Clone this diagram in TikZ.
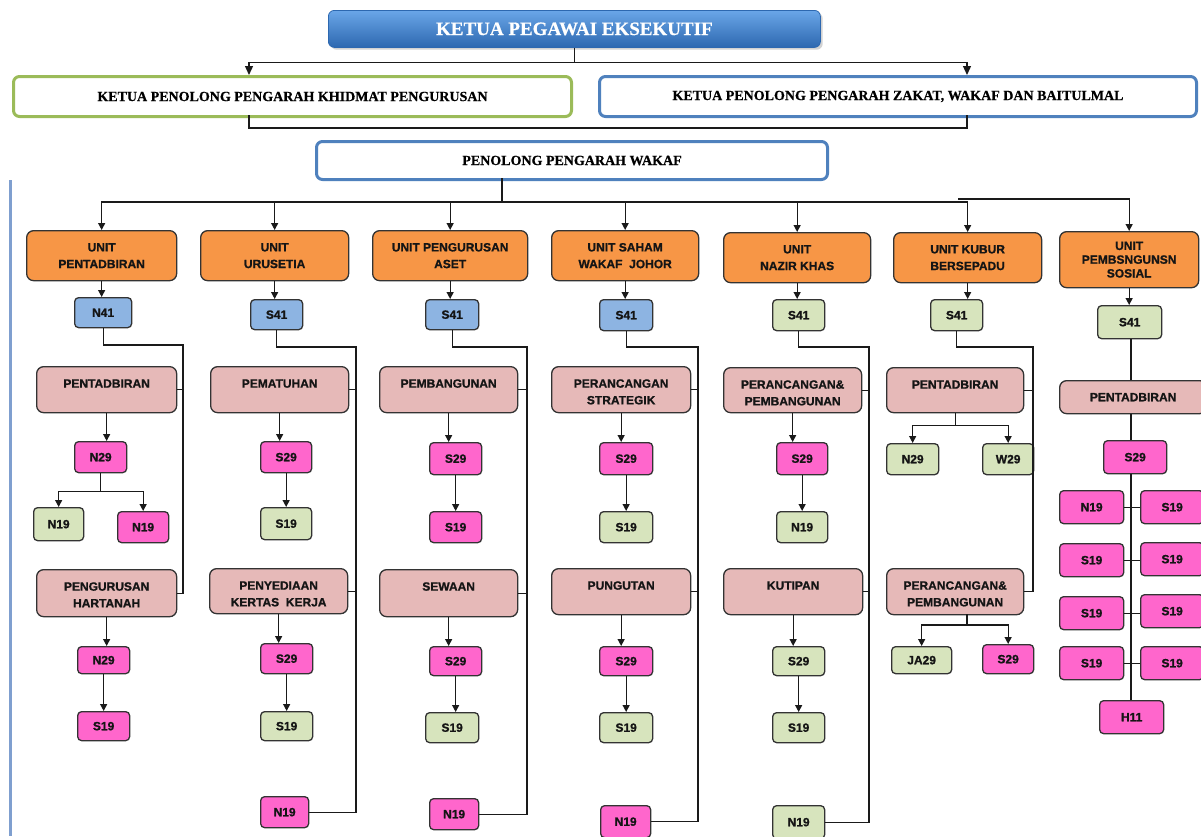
\documentclass[tikz,border=0pt]{standalone}
\usepackage{fontspec}
\setmainfont{Liberation Serif}[BoldFeatures={FakeBold=0.6}]
\setsansfont{Liberation Sans}[BoldFeatures={FakeBold=1}]
\usetikzlibrary{arrows.meta,shadows}
\definecolor{orng}{HTML}{F79646}
\definecolor{gblue}{HTML}{8DB4E2}
\definecolor{ggreen}{HTML}{D7E4BD}
\definecolor{gmag}{HTML}{FF66CC}
\definecolor{gpink}{HTML}{E6B9B8}
\definecolor{bordc}{HTML}{333333}
\definecolor{txt}{HTML}{151515}
\definecolor{lnc}{HTML}{1A1A1A}
\definecolor{ttop}{HTML}{6AA6E8}
\definecolor{tbot}{HTML}{2D68B0}
\definecolor{grnb}{HTML}{9BBB59}
\definecolor{blub}{HTML}{4F81BD}
\definecolor{sideb}{HTML}{7F9FCF}
\tikzset{
  base/.style={draw=bordc, line width=1.3pt, text=txt, font=\sffamily\bfseries\fontsize{12}{16.7}\selectfont, align=center, inner sep=0pt},
  unitbox/.style={base, fill=orng, rounded corners=7pt},
  bluebox/.style={base, fill=gblue, rounded corners=4pt},
  grnbox/.style={base, fill=ggreen, rounded corners=4pt},
  magbox/.style={base, fill=gmag, rounded corners=4pt},
  sectbox/.style={base, fill=gpink, rounded corners=7pt},
  headbox/.style={line width=3pt, rounded corners=6pt, fill=white, text=black, inner sep=0pt, font=\rmfamily\bfseries\fontsize{14}{16}\selectfont},
  topbox/.style={rounded corners=6pt, top color=ttop, bottom color=tbot, draw=tbot, line width=0.8pt, drop shadow={opacity=0.35}, text=white, inner sep=0pt, font=\rmfamily\bfseries\fontsize{19}{21}\selectfont},
  conn/.style={draw=lnc, line width=1.3pt},
  arr/.style={conn, -{Triangle[length=7pt,width=7pt]}},
  arrtop/.style={conn, -{Triangle[length=9pt,width=8pt]}},
}
\newcommand\bx[7]{\node[#1, anchor=north west, minimum width={(#5-#3)*1pt}, minimum height={(#6-#4)*1pt}] (#2) at (#3,#4) {#7};}
\newcommand\sx[6]{\node[sectbox, anchor=north west] (#1) at (#2,#3) {\parbox[c][\dimexpr #5pt-#3pt\relax][t]{\dimexpr #4pt-#2pt\relax}{\centering\rule{0pt}{21pt}#6}};}
\newcommand\ar[2]{\draw[arr] (#1.south) -- (#1.south |- #2.north);}
\begin{document}
\begin{tikzpicture}[x=1pt,y=-1pt]
\useasboundingbox (0,0) rectangle (1201,836);
\clip (0,0) rectangle (1201,836);
\fill[white] (0,0) rectangle (1201,836);

% top section
\bx{topbox}{t0}{328}{10}{820}{47}{KETUA PEGAWAI EKSEKUTIF}
\bx{headbox,draw=grnb}{t1}{12}{75}{570}{115}{KETUA PENOLONG PENGARAH KHIDMAT PENGURUSAN}
\bx{headbox,draw=blub}{t2}{598}{75}{1195}{115}{KETUA PENOLONG PENGARAH ZAKAT, WAKAF DAN BAITULMAL}
\bx{headbox,draw=blub}{t3}{315}{140}{826}{178}{PENOLONG PENGARAH WAKAF}

\coordinate (a1) at (249,75);
\coordinate (a2) at (967,75);
\coordinate (b1) at (249,115);
\coordinate (b2) at (967,115);
\draw[conn] (t0.south) -- ++(0,15) coordinate (j0);
\draw[arrtop] (j0) -| (a1);
\draw[arrtop] (j0) -| (a2);
\draw[conn] (b1) -- ++(0,13) -| (b2);

% side line
\draw[sideb, line width=3pt] (10,180) -- (10,836);

% units
\bx{unitbox}{u1}{26}{230}{176}{280}{UNIT\\PENTADBIRAN}
\bx{unitbox}{u2}{200}{230}{348}{280}{UNIT\\URUSETIA}
\bx{unitbox}{u3}{372}{230}{527}{280}{UNIT PENGURUSAN\\ASET}
\bx{unitbox}{u4}{551}{230}{698}{280}{UNIT SAHAM\\WAKAF\ \ JOHOR}
\bx{unitbox}{u5}{723}{232}{870}{282}{UNIT\\NAZIR KHAS}
\bx{unitbox}{u6}{893}{232}{1041}{282}{UNIT KUBUR\\BERSEPADU}
\bx{unitbox,font=\sffamily\bfseries\fontsize{12}{13.8}\selectfont}{u7}{1059}{231}{1198}{287}{UNIT\\PEMBSNGUNSN\\SOSIAL}

\coordinate (p0) at (502,178);
\coordinate (p1) at (502,202);
\coordinate (p2) at (958,199);
\draw[conn] (p0) -- (p1);
\foreach \u in {u1,u2,u3,u4,u5,u6} \draw[arr] (p1) -| (\u.north);
\draw[arr] (p2) -| (u7.north);

% column 1
\bx{bluebox}{g1}{74}{297}{131}{327}{N41}
\sx{s1a}{36}{366}{176}{412}{PENTADBIRAN}
\bx{magbox}{m1a}{74}{441}{126}{472}{N29}
\bx{grnbox}{k1a}{33}{507}{83}{540}{N19}
\bx{magbox}{m1b}{117}{511}{168}{542}{N19}
\sx{s1b}{36}{569}{176}{616}{PENGURUSAN\\HARTANAH}
\bx{magbox}{m1c}{77}{646}{129}{673}{N29}
\bx{magbox}{m1d}{77}{711}{129}{740}{S19}
\ar{u1}{g1}
\ar{s1a}{m1a}
\draw[conn] (m1a.south) -- ++(0,18) coordinate (f1);
\draw[arr] (f1) -| (k1a.north);
\draw[arr] (f1) -| (m1b.north);
\ar{s1b}{m1c}
\ar{m1c}{m1d}
\coordinate (c1) at (183,345);
\draw[conn] (g1.south) |- (c1) |- (s1b.east);
\draw[conn] (s1a.east) -- (s1a.east -| c1);

% column 2
\bx{bluebox}{g2}{250}{299}{302}{329}{S41}
\sx{s2a}{210}{366}{348}{412}{PEMATUHAN}
\bx{magbox}{m2a}{260}{441}{311}{472}{S29}
\bx{grnbox}{k2a}{260}{507}{311}{539}{S19}
\sx{s2b}{209}{568}{347}{613}{PENYEDIAAN\\KERTAS\ \ KERJA}
\bx{magbox}{m2b}{260}{643}{312}{673}{S29}
\bx{grnbox}{k2b}{260}{711}{312}{740}{S19}
\bx{magbox}{m2c}{260}{796}{308}{827}{N19}
\ar{u2}{g2}
\ar{s2a}{m2a}
\ar{m2a}{k2a}
\ar{s2b}{m2b}
\ar{m2b}{k2b}
\coordinate (c2) at (356,347);
\draw[conn] (g2.south) |- (c2) |- (m2c.east);
\draw[conn] (s2a.east) -- (s2a.east -| c2);
\draw[conn] (s2b.east) -- (s2b.east -| c2);

% column 3
\bx{bluebox}{g3}{425}{299}{478}{329}{S41}
\sx{s3a}{379}{366}{517}{412}{PEMBANGUNAN}
\bx{magbox}{m3a}{429}{442}{481}{474}{S29}
\bx{magbox}{m3b}{429}{511}{481}{542}{S19}
\sx{s3b}{379}{569}{517}{616}{SEWAAN}
\bx{magbox}{m3c}{429}{646}{481}{675}{S29}
\bx{grnbox}{k3a}{425}{712}{478}{742}{S19}
\bx{magbox}{m3d}{429}{798}{478}{829}{N19}
\ar{u3}{g3}
\ar{s3a}{m3a}
\ar{m3a}{m3b}
\ar{s3b}{m3c}
\ar{m3c}{k3a}
\coordinate (c3) at (527,347);
\draw[conn] (g3.south) |- (c3) |- (m3d.east);
\draw[conn] (s3a.east) -- (s3a.east -| c3);
\draw[conn] (s3b.east) -- (s3b.east -| c3);

% column 4
\bx{bluebox}{g4}{599}{299}{652}{330}{S41}
\sx{s4a}{551}{366}{690}{412}{PERANCANGAN\\STRATEGIK}
\bx{magbox}{m4a}{599}{442}{652}{474}{S29}
\bx{grnbox}{k4a}{599}{511}{652}{542}{S19}
\sx{s4b}{551}{568}{690}{614}{PUNGUTAN}
\bx{magbox}{m4b}{599}{646}{652}{675}{S29}
\bx{grnbox}{k4b}{599}{712}{652}{742}{S19}
\bx{magbox}{m4c}{600}{805}{650}{837}{N19}
\ar{u4}{g4}
\ar{s4a}{m4a}
\ar{m4a}{k4a}
\ar{s4b}{m4b}
\ar{m4b}{k4b}
\coordinate (c4) at (698,347);
\draw[conn] (g4.south) |- (c4) |- (m4c.east);
\draw[conn] (s4a.east) -- (s4a.east -| c4);
\draw[conn] (s4b.east) -- (s4b.east -| c4);

% column 5
\bx{grnbox}{k5a}{772}{299}{824}{330}{S41}
\sx{s5a}{723}{367}{861}{412}{PERANCANGAN\&\\PEMBANGUNAN}
\bx{magbox}{m5a}{776}{442}{827}{474}{S29}
\bx{grnbox}{k5b}{776}{511}{827}{542}{N19}
\sx{s5b}{723}{568}{862}{614}{KUTIPAN}
\bx{grnbox}{k5c}{772}{646}{824}{675}{S29}
\bx{grnbox}{k5d}{772}{712}{824}{742}{S19}
\bx{grnbox}{k5e}{772}{805}{824}{838}{N19}
\ar{u5}{k5a}
\ar{s5a}{m5a}
\ar{m5a}{k5b}
\ar{s5b}{k5c}
\ar{k5c}{k5d}
\coordinate (c5) at (869,347);
\draw[conn] (k5a.south) |- (c5) |- (k5e.east);
\draw[conn] (s5a.east) -- (s5a.east -| c5);
\draw[conn] (s5b.east) -- (s5b.east -| c5);

% column 6
\bx{grnbox}{k6a}{930}{299}{982}{330}{S41}
\sx{s6a}{886}{367}{1023}{412}{PENTADBIRAN}
\bx{grnbox}{k6b}{886}{443}{938}{474}{N29}
\bx{grnbox}{k6c}{982}{443}{1033}{474}{W29}
\sx{s6b}{886}{568}{1023}{614}{PERANCANGAN\&\\PEMBANGUNAN}
\bx{grnbox}{k6d}{891}{646}{951}{673}{JA29}
\bx{magbox}{m6a}{982}{644}{1033}{673}{S29}
\ar{u6}{k6a}
\draw[conn] (s6a.south) -- ++(0,12) coordinate (f6);
\draw[arr] (f6) -| (k6b.north);
\draw[arr] (f6) -| (k6c.north);
\coordinate (s6bb) at (967,614);
\draw[conn] (s6bb) -- ++(0,11) coordinate (f7);
\draw[arr] (f7) -| (k6d.north);
\draw[arr] (f7) -| (m6a.north);
\coordinate (c6) at (1033,347);
\draw[conn] (k6a.south) |- (c6) |- (s6b.east);
\draw[conn] (s6a.east) -- (s6a.east -| c6);

% column 7
\bx{grnbox}{k7a}{1097}{305}{1161}{338}{S41}
\bx{sectbox}{s7a}{1059}{380}{1206}{413}{PENTADBIRAN}
\bx{magbox}{m7a}{1103}{440}{1166}{473}{S29}
\bx{magbox}{m7b}{1059}{490}{1123}{523}{N19}
\bx{magbox}{m7c}{1140}{490}{1203}{523}{S19}
\bx{magbox}{m7d}{1059}{543}{1123}{576}{S19}
\bx{magbox}{m7e}{1140}{542}{1203}{575}{S19}
\bx{magbox}{m7f}{1059}{596}{1123}{629}{S19}
\bx{magbox}{m7g}{1140}{594}{1203}{627}{S19}
\bx{magbox}{m7h}{1059}{646}{1123}{679}{S19}
\bx{magbox}{m7i}{1140}{646}{1203}{679}{S19}
\bx{magbox}{m7j}{1099}{700}{1163}{733}{H11}
\ar{u7}{k7a}
\coordinate (tr) at (1131,0);
\draw[conn] (k7a.south -| tr) -- (s7a.north -| tr);
\draw[conn] (s7a.south -| tr) -- (m7a.north -| tr);
\draw[conn] (m7a.south -| tr) -- (m7j.north -| tr);
\draw[conn] (m7b.east) -- (m7b.east -| m7c.west);
\draw[conn] (m7d.east) -- (m7d.east -| m7e.west);
\draw[conn] (m7f.east) -- (m7f.east -| m7g.west);
\draw[conn] (m7h.east) -- (m7h.east -| m7i.west);
\end{tikzpicture}
\end{document}
